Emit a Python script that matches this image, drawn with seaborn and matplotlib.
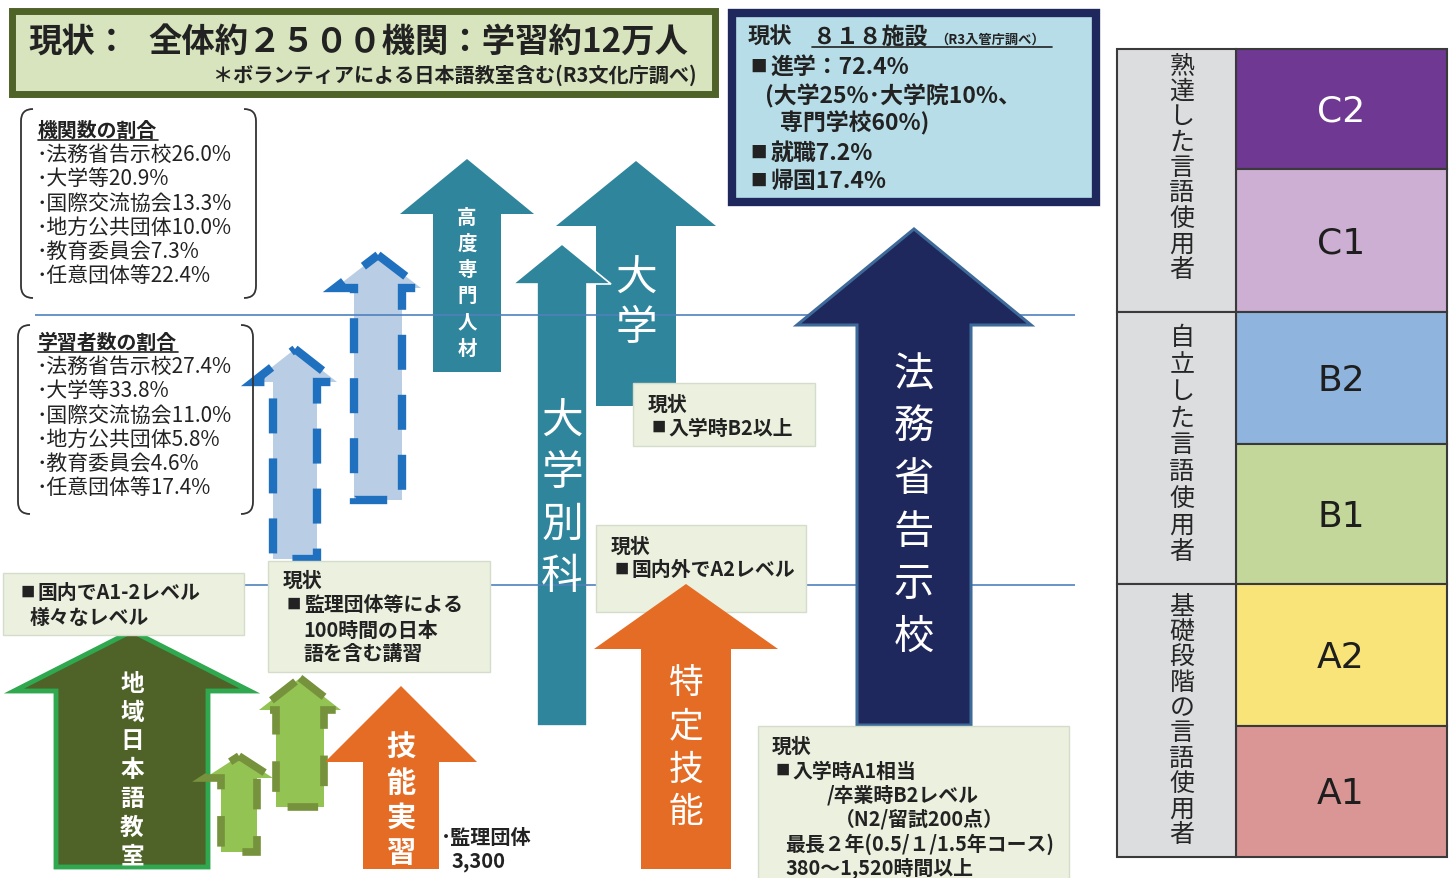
import matplotlib
matplotlib.use("Agg")
import matplotlib.pyplot as plt
import seaborn as sns
from matplotlib.patches import Polygon, Rectangle, PathPatch
from matplotlib.path import Path

# ---------------- data ----------------
title_lead = "現状："
title_main = "全体約２５００機関：学習約12万人"
title_note = "＊ボランティアによる日本語教室含む(R3文化庁調べ)"

share_categories = ["法務省告示校", "大学等", "国際交流協会", "地方公共団体", "教育委員会", "任意団体等"]
inst_title = "機関数の割合"
inst_share = [26.0, 20.9, 13.3, 10.0, 7.3, 22.4]
learner_title = "学習者数の割合"
learner_share = [27.4, 33.8, 11.0, 5.8, 4.6, 17.4]

notice_head = "現状"
notice_facilities = "８１８施設"
notice_source = "（R3入管庁調べ）"
advance_pct = 72.4
univ_pct, grad_pct, voc_pct = 25, 10, 60
job_pct = 7.2
return_pct = 17.4

cefr_levels = ["C2", "C1", "B2", "B1", "A2", "A1"]
cefr_groups = ["熟達した言語使用者", "自立した言語使用者", "基礎段階の言語使用者"]

arrow_labels = ["地域日本語教室", "", "", "技能実習", "", "", "高度専門人材", "大学", "大学別科", "特定技能", "法務省告示校"]

status_boxes = [
    ["■国内でA1-2レベル", "様々なレベル"],
    ["現状", "■監理団体等による", "100時間の日本", "語を含む講習"],
    ["現状", "■入学時B2以上"],
    ["現状", "■国内外でA2レベル"],
    ["現状", "■入学時A1相当", "/卒業時B2レベル", "（N2/留試200点）", "最長２年(0.5/１/1.5年コース)", "380～1,520時間以上"],
]
supervisor_label = "･監理団体"
supervisor_count = "3,300"

# ---------------- layout / style ----------------
W, H = 1456, 879
sns.set_theme(style="white")
plt.rcParams["font.family"] = ["Noto Sans CJK JP", "DejaVu Sans"]
TXT = "#222222"

fig = plt.figure(figsize=(W / 100, H / 100), dpi=100)
ax = fig.add_axes([0, 0, 1, 1])
ax.set_xlim(0, W)
ax.set_ylim(H, 0)
ax.axis("off")


def up_arrow(cx, tip, hb, hh, sh, bottom, **kw):
    pts = [(cx, tip), (cx + hh, hb), (cx + sh, hb), (cx + sh, bottom),
           (cx - sh, bottom), (cx - sh, hb), (cx - hh, hb)]
    ax.add_patch(Polygon(pts, closed=True, **kw))


def vtext(x, y0, step, s, **kw):
    for i, ch in enumerate(s):
        ax.text(x, y0 + i * step, ch, ha="center", va="center", **kw)


def btext(x, y, s, size, **kw):
    """Text line; a leading ■ is drawn as a smaller square followed by a gap."""
    if s.startswith("■"):
        px = size / 0.72
        ax.text(x + 0.38 * px, y, "■", fontsize=size * 0.72, ha="center", va="center", **kw)
        ax.text(x + 0.9 * px, y, s[1:], fontsize=size, va="center", **kw)
    else:
        ax.text(x, y, s, fontsize=size, va="center", **kw)


def bracket(x, y0, y1, side, r=12):
    d = r if side == "left" else -r
    verts = [(x + d, y0), (x, y0), (x, y0 + r), (x, y1 - r), (x, y1), (x + d, y1)]
    codes = [Path.MOVETO, Path.CURVE3, Path.CURVE3, Path.LINETO, Path.CURVE3, Path.CURVE3]
    ax.add_patch(PathPatch(Path(verts, codes), fc="none", ec="#333333", lw=1.3, zorder=5))


# horizontal guide lines
ax.hlines([316, 586], 35, 1075, color="#4f81bd", lw=1.2, zorder=3)

# arrows: (cx, tip, head_base, head_half, shaft_half, bottom)
geo = [
    (132, 632, 692, 118, 76, 868),
    (239, 757, 779, 34, 18, 853),
    (300, 679, 711, 41, 24, 808),
    (401, 687, 763, 76, 38, 870),
    (295, 350, 383, 42, 22, 560),
    (378, 256, 289, 43, 24, 501),
    (467, 160, 215, 67, 34, 373),
    (636, 162, 227, 80, 40, 407),
    (562, 245, 285, 49, 25, 727),
    (686, 585, 650, 92, 45, 870),
    (914, 230, 326, 117, 57, 726),
]
teal = "#2f859c"
orange = "#e46c25"
styles = [
    dict(fc="#4f6228", ec="#2fa84f", lw=3.5, zorder=2),
    dict(fc="#92c353", ec="#76923c", lw=5.5, ls=(0, (4, 3.5)), zorder=2),
    dict(fc="#92c353", ec="#76923c", lw=5.5, ls=(0, (4, 3.5)), zorder=2),
    dict(fc=orange, ec="none", zorder=2),
    dict(fc="#b9cde5", ec="#1f70bf", lw=6, ls=(0, (4.2, 3)), zorder=2),
    dict(fc="#b9cde5", ec="#1f70bf", lw=6, ls=(0, (4.2, 3)), zorder=2),
    dict(fc=teal, ec="none", zorder=2),
    dict(fc=teal, ec="none", zorder=2),
    dict(fc=teal, ec="white", lw=1.2, zorder=2.1),
    dict(fc=orange, ec="none", zorder=6),
    dict(fc="#1f285c", ec="#3d6a99", lw=2.2, zorder=4),
]
for g, st in zip(geo, styles):
    up_arrow(*g, **st)

# arrow labels: (x, first_y, step, size, weight)
lab_layout = [
    (132, 684, 28.7, 17, "bold"),
    None, None,
    (401, 748, 35, 21, "bold"),
    None, None,
    (467, 218, 26.2, 14, "bold"),
    (636, 279, 50, 30, "normal"),
    (562, 422, 51.7, 30, "normal"),
    (686, 684, 43, 25, "normal"),
    (914, 375, 52.5, 29, "normal"),
]
for lab, lay in zip(arrow_labels, lab_layout):
    if lay and lab:
        x, y0, st, sz, wt = lay
        vtext(x, y0, st, lab, color="white", fontsize=sz, fontweight=wt, zorder=10)

# title box
ax.add_patch(Rectangle((11.5, 11.5), 703, 83, fc="#d7e4bd", ec="#4f6228", lw=5, zorder=5))
ax.text(28, 42, title_lead, fontsize=24, fontweight="bold", color=TXT, va="center", zorder=10)
ax.text(148, 42, title_main, fontsize=24, fontweight="bold", color=TXT, va="center", zorder=10)
ax.text(697, 75, title_note, fontsize=14.5, fontweight="bold", color=TXT, va="center", ha="right", zorder=10)

# notice box (blue)
ax.add_patch(Rectangle((732, 14), 364, 189, fc="#b7dee8", ec="#1f285c", lw=6, zorder=5))
ax.text(748, 37, notice_head, fontsize=16, fontweight="bold", color=TXT, va="center", zorder=10)
ax.text(813, 37, notice_facilities, fontsize=16.5, fontweight="bold", color=TXT, va="center", zorder=10)
ax.text(935, 40, notice_source, fontsize=9.5, fontweight="bold", color=TXT, va="center", zorder=10)
ax.plot([812, 1052], [48, 48], color=TXT, lw=1.2, zorder=10)
notice_lines = [
    (750, 67, f"■進学：{advance_pct}%"),
    (765, 96, f"(大学{univ_pct}%･大学院{grad_pct}%、"),
    (780, 123, f"専門学校{voc_pct}%)"),
    (750, 153, f"■就職{job_pct}%"),
    (750, 181, f"■帰国{return_pct}%"),
]
for x, y, s in notice_lines:
    btext(x, y, s, 16.5, fontweight="bold", color=TXT, zorder=10)

# share brackets
for title, vals, (y_top, y_bot, xl, xr, ty) in [
    (inst_title, inst_share, (110, 299, 21, 256, 130)),
    (learner_title, learner_share, (326, 515, 18, 253, 342)),
]:
    bracket(xl, y_top, y_bot, "left")
    bracket(xr, y_top, y_bot, "right")
    ax.text(38, ty, title, fontsize=14.3, fontweight="bold", color=TXT, va="center", zorder=10)
    ax.plot([38, 38 + 20 * len(title)], [ty + 11, ty + 11], color=TXT, lw=1.2, zorder=10)
    for i, (c, v) in enumerate(zip(share_categories, vals)):
        ax.text(36, ty + 25 + 24.2 * i, f"･{c}{v:.1f}%", fontsize=15, color=TXT, va="center", zorder=10)

# status boxes: (x0, y0, x1, y1), [(x, y) per line]
box_geo = [
    ((3, 574, 244, 636), [(20, 593), (30, 617)]),
    ((268, 562, 490, 673), [(283, 580), (286, 605), (303, 630), (303, 654)]),
    ((633, 384, 815, 447), [(648, 404), (651, 428)]),
    ((596, 526, 806, 613), [(611, 546), (614, 570)]),
    ((758, 727, 1069, 885), [(772, 746), (775, 771), (827, 795), (835, 819), (785, 844), (785, 868)]),
]
for lines, ((x0, y0, x1, y1), pos) in zip(status_boxes, box_geo):
    ax.add_patch(Rectangle((x0, y0), x1 - x0, y1 - y0, fc="#ebf1de", ec="#d6dccb", lw=1, zorder=5))
    for s, (x, y) in zip(lines, pos):
        btext(x, y, s, 14.3, fontweight="bold", color=TXT, zorder=10)

ax.text(441, 838, supervisor_label, fontsize=14.5, fontweight="bold", color=TXT, va="center", zorder=10)
ax.text(452, 862, supervisor_count, fontsize=14.5, fontweight="bold", color=TXT, va="center", zorder=10)

# CEFR table
row_edges = [50, 170, 313, 445, 585, 727, 858]
cefr_colors = ["#6f3893", "#cdafd4", "#8fb4de", "#c4d79b", "#f9e479", "#da9694"]
for i, (lv, col) in enumerate(zip(cefr_levels, cefr_colors)):
    y0, y1 = row_edges[i], row_edges[i + 1]
    ax.add_patch(Rectangle((1236, y0), 211, y1 - y0, fc=col, ec="#3a3a3a", lw=1.5, zorder=5))
    ax.text(1341, (y0 + y1) / 2 + 2, lv, fontsize=26, family="DejaVu Sans",
            color="white" if i == 0 else "#1e1e1e", ha="center", va="center", zorder=10)
group_layout = [(0, 2, 66, 25.5), (2, 4, 338, 26.8), (4, 6, 607, 25.3)]
for name, (a, b, fy, st) in zip(cefr_groups, group_layout):
    ax.add_patch(Rectangle((1117, row_edges[a]), 119, row_edges[b] - row_edges[a],
                           fc="#dcdddf", ec="#3a3a3a", lw=1.5, zorder=5))
    vtext(1182, fy, st, name, fontsize=18, color="#262626", zorder=10)

fig.savefig("out.png", dpi=100)
